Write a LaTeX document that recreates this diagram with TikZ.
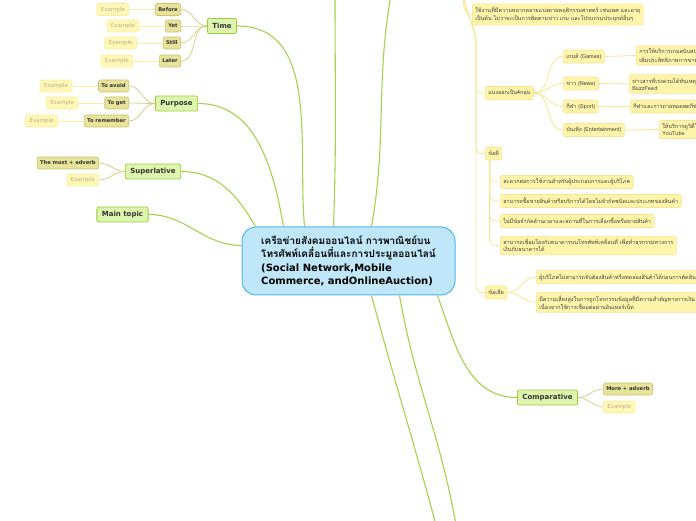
\documentclass[tikz,border=0pt]{standalone}
\usepackage{fontspec}
\setmainfont{DejaVu Sans}
\newfontfamily\thai{Loma}[Script=Thai]
\usetikzlibrary{positioning,backgrounds}
\definecolor{hubfill}{HTML}{BFE7F9}
\definecolor{hubline}{HTML}{55B5E5}
\definecolor{topicfill}{HTML}{DEF5AE}
\definecolor{topicline}{HTML}{9DCB3E}
\definecolor{mainline}{HTML}{A6D14C}
\definecolor{subfill}{HTML}{E7E39B}
\definecolor{subline}{HTML}{CBC36F}
\definecolor{exfill}{HTML}{FFF7B6}
\definecolor{exline}{HTML}{FBEDA0}
\definecolor{extext}{HTML}{B8B08A}
\definecolor{notefill}{HTML}{FFF4A9}
\definecolor{noteline}{HTML}{F8E490}
\begin{document}
\begin{tikzpicture}[x=1pt,y=1pt,
    every node/.style={font=\fontsize{5.5}{6.5}\selectfont, text=black!80, rounded corners=2pt},
    hub/.style={draw=hubline, fill=hubfill, line width=1pt, rounded corners=14pt, minimum width=213pt, minimum height=68pt, align=left, text=black, font=\bfseries\fontsize{10}{13.5}\selectfont},
    topic/.style={draw=topicline, fill=topicfill, line width=0.8pt, inner xsep=5pt, minimum height=15pt, font=\bfseries\fontsize{7}{8}\selectfont},
    sub/.style={draw=subline, fill=subfill, line width=0.6pt, inner xsep=3pt, minimum height=12pt, font=\bfseries\fontsize{5.2}{6}\selectfont},
    ex/.style={draw=exline, fill=exfill, line width=0.6pt, inner xsep=4pt, minimum height=12pt, text=extext},
    note/.style={draw=noteline, fill=notefill, line width=0.6pt, inner xsep=3pt, inner ysep=3pt, minimum height=13pt, align=left, text=black!75, font=\thai\fontsize{5.5}{7}\selectfont},
    mainlink/.style={draw=mainline, line width=1.1pt},
    sublink/.style={draw=subline!80, line width=0.8pt},
    exlink/.style={draw=exline, line width=0.8pt},
    notelink/.style={draw=noteline, line width=0.8pt, rounded corners=6pt}
]
\useasboundingbox (0,0) rectangle (696,520);

% centre
\node [hub] (ctr) at (348.5,259) {{\thai\fontsize{10}{13.5}\selectfont เครือข่ายสังคมออนไลน์ การพาณิชย์บน}\\{\thai\fontsize{10}{13.5}\selectfont โทรศัพท์เคลื่อนที่และการประมูลออนไลน์}\\(Social Network,Mobile\\Commerce, andOnlineAuction)};

% left branches
\node [topic] (time) at (222,494) {Time};
\node [sub, anchor=east] (before) at (181,510.5) {Before};
\node [sub, anchor=east] (yet) at (181,494) {Yet};
\node [sub, anchor=east] (still) at (181,477) {Still};
\node [sub, anchor=east] (later) at (181,459) {Later};
\node [ex, left=26pt of before] (exbefore) {Example};
\node [ex, left=26pt of yet] (exyet) {Example};
\node [ex, left=26pt of still] (exstill) {Example};
\node [ex, left=26pt of later] (exlater) {Example};

\node [topic] (purpose) at (176.5,416.5) {Purpose};
\node [sub, anchor=east] (avoid) at (129,434) {To avoid};
\node [sub, anchor=east] (get) at (129,417) {To get};
\node [sub, anchor=east] (remember) at (129,399) {To remember};
\node [ex, left=26pt of avoid] (exavoid) {Example};
\node [ex, left=26pt of get] (exget) {Example};
\node [ex, left=26pt of remember] (exremember) {Example};

\node [topic] (superl) at (153,348.5) {Superlative};
\node [sub, anchor=east] (most) at (99,357) {The most + adverb};
\node [ex, anchor=east] (exsuperl) at (99,340) {Example};

\node [topic] (maintopic) at (122.5,305.5) {Main topic};

% right branches
\node [topic] (compar) at (547.5,122.5) {Comparative};
\node [sub, anchor=west] (more) at (603,131) {More + adverb};
\node [ex, anchor=west] (excompar) at (603,113) {Example};

\node [note, anchor=west] (use) at (472,505.5) {ใช้งานที่มีความหลากหลายแบ่งตามพฤติกรรมศาสตร์ เช่นเพศ และอายุ\\เป็นต้น ไม่ว่าจะเป็นการติดตามข่าว เกม และโปรแกรมประยุกต์อื่นๆ};
\node [note, anchor=west] (groups) at (485,427) {แบ่งออกเป็น4กลุ่ม};
\node [note, anchor=west] (games) at (563,463.5) {เกมส์ (Games)};
\node [note, anchor=west] (news) at (563,436.5) {ข่าว (News)};
\node [note, anchor=west] (sport) at (563,413.5) {กีฬา (Sport)};
\node [note, anchor=west] (enter) at (563,390) {บันเทิง (Entertainment)};
\node [note, anchor=west] (gamesnote) at (636,464.5) {การให้บริการเกมสนับสนุนการโฆษณา\\เพิ่มประสิทธิภาพการขายสินค้า};
\node [note, anchor=west] (newsnote) at (629,436) {ข่าวสารที่เร่งด่วนได้ทันเหตุการณ์ เช่น\\BuzzFeed};
\node [note, anchor=west] (sportnote) at (630,413.5) {กีฬาและการถ่ายทอดสดกีฬา};
\node [note, anchor=west] (enternote) at (659,390.5) {ให้บริการดูวิดีโอ เช่น\\YouTube};

\node [note, anchor=west] (pros) at (485,366.5) {ข้อดี};
\node [note, anchor=west] (pro1) at (500,338) {สะดวกต่อการใช้งานสำหรับผู้ประกอบการและผู้บริโภค};
\node [note, anchor=west] (pro2) at (500,319) {สามารถซื้อขายสินค้าหรือบริการได้โดยไม่จำกัดชนิดและประเภทของสินค้า};
\node [note, anchor=west] (pro3) at (500,299) {ไม่มีข้อจำกัดด้านเวลาและสถานที่ในการเลือกซื้อหรือขายสินค้า};
\node [note, anchor=west] (pro4) at (500,274.5) {สามารถเชื่อมโยงกับธนาคารบนโทรศัพท์เคลื่อนที่ เพื่อทำธุรกรรมทางการ\\เงินกับธนาคารได้};

\node [note, anchor=west] (cons) at (485,227.5) {ข้อเสีย};
\node [note, anchor=west] (con1) at (536,243) {ผู้บริโภคไม่สามารถจับต้องสินค้าหรือทดลองสินค้าได้ก่อนการตัดสินใจซื้อ};
\node [note, anchor=west] (con2) at (536,217.5) {มีความเสี่ยงสูงในการถูกโจรกรรมข้อมูลที่มีความสำคัญทางการเงิน\\เนื่องจากใช้การเชื่อมต่อผ่านอินเทอร์เน็ต};

% branches that leave the page
\coordinate (up1) at (335,525);
\coordinate (up2) at (391,525);
\coordinate (down1) at (436,-5);
\coordinate (down2) at (456,-5);
\coordinate (ytop) at (463,525);
\coordinate (yspine) at (476,470);

\begin{scope}[on background layer]
\draw [mainlink] ([yshift=-19pt]ctr.north west) to[out=180,in=0] (maintopic.east);
\draw [mainlink] ([xshift=14pt]ctr.north west) to[out=120,in=0] (superl.east);
\draw [mainlink] ([xshift=42pt]ctr.north west) to[out=100,in=0] (purpose.east);
\draw [mainlink] ([xshift=63pt]ctr.north west) to[out=95,in=0] (time.east);
\draw [mainlink] ([xshift=92pt]ctr.north west) to[out=88,in=-90] (up1);
\draw [mainlink] ([xshift=130pt]ctr.north west) to[out=80,in=-100] (up2);
\draw [mainlink] ([xshift=130pt]ctr.south west) to[out=-75,in=105] (down1);
\draw [mainlink] ([xshift=158pt]ctr.south west) to[out=-80,in=100] (down2);
\draw [mainlink] ([xshift=196pt]ctr.south west) to[out=-70,in=180] (compar.west);

\foreach \s/\e in {before/exbefore, yet/exyet, still/exstill, later/exlater, avoid/exavoid, get/exget, remember/exremember}
    \draw [exlink] (\s.west) -- (\e.east);
\foreach \s in {before, yet, still, later}
    \draw [sublink] (time.west) to[out=180,in=0] (\s.east);
\foreach \s in {avoid, get, remember}
    \draw [sublink] (purpose.west) to[out=180,in=0] (\s.east);
\foreach \s in {most, exsuperl}
    \draw [sublink] (superl.west) to[out=180,in=0] (\s.east);
\foreach \s in {more, excompar}
    \draw [sublink] (compar.east) to[out=0,in=180] (\s.west);

\draw [notelink] (ytop) to[out=-90,in=180] (use.west);
\foreach \s in {groups, pros, cons}
    \draw [notelink] (ytop) to[out=-80,in=90] (yspine) |- (\s.west);
\foreach \s/\e in {games/gamesnote, news/newsnote, sport/sportnote, enter/enternote} {
    \draw [notelink] (groups.east) to[out=0,in=180] (\s.west);
    \draw [notelink] (\s.east) -- (\e.west);
}
\foreach \s in {pro1, pro2, pro3, pro4}
    \draw [notelink] ([xshift=-4pt]pros.south) |- (\s.west);
\foreach \s in {con1, con2}
    \draw [notelink] (cons.east) to[out=0,in=180] (\s.west);
\end{scope}
\end{tikzpicture}
\end{document}
